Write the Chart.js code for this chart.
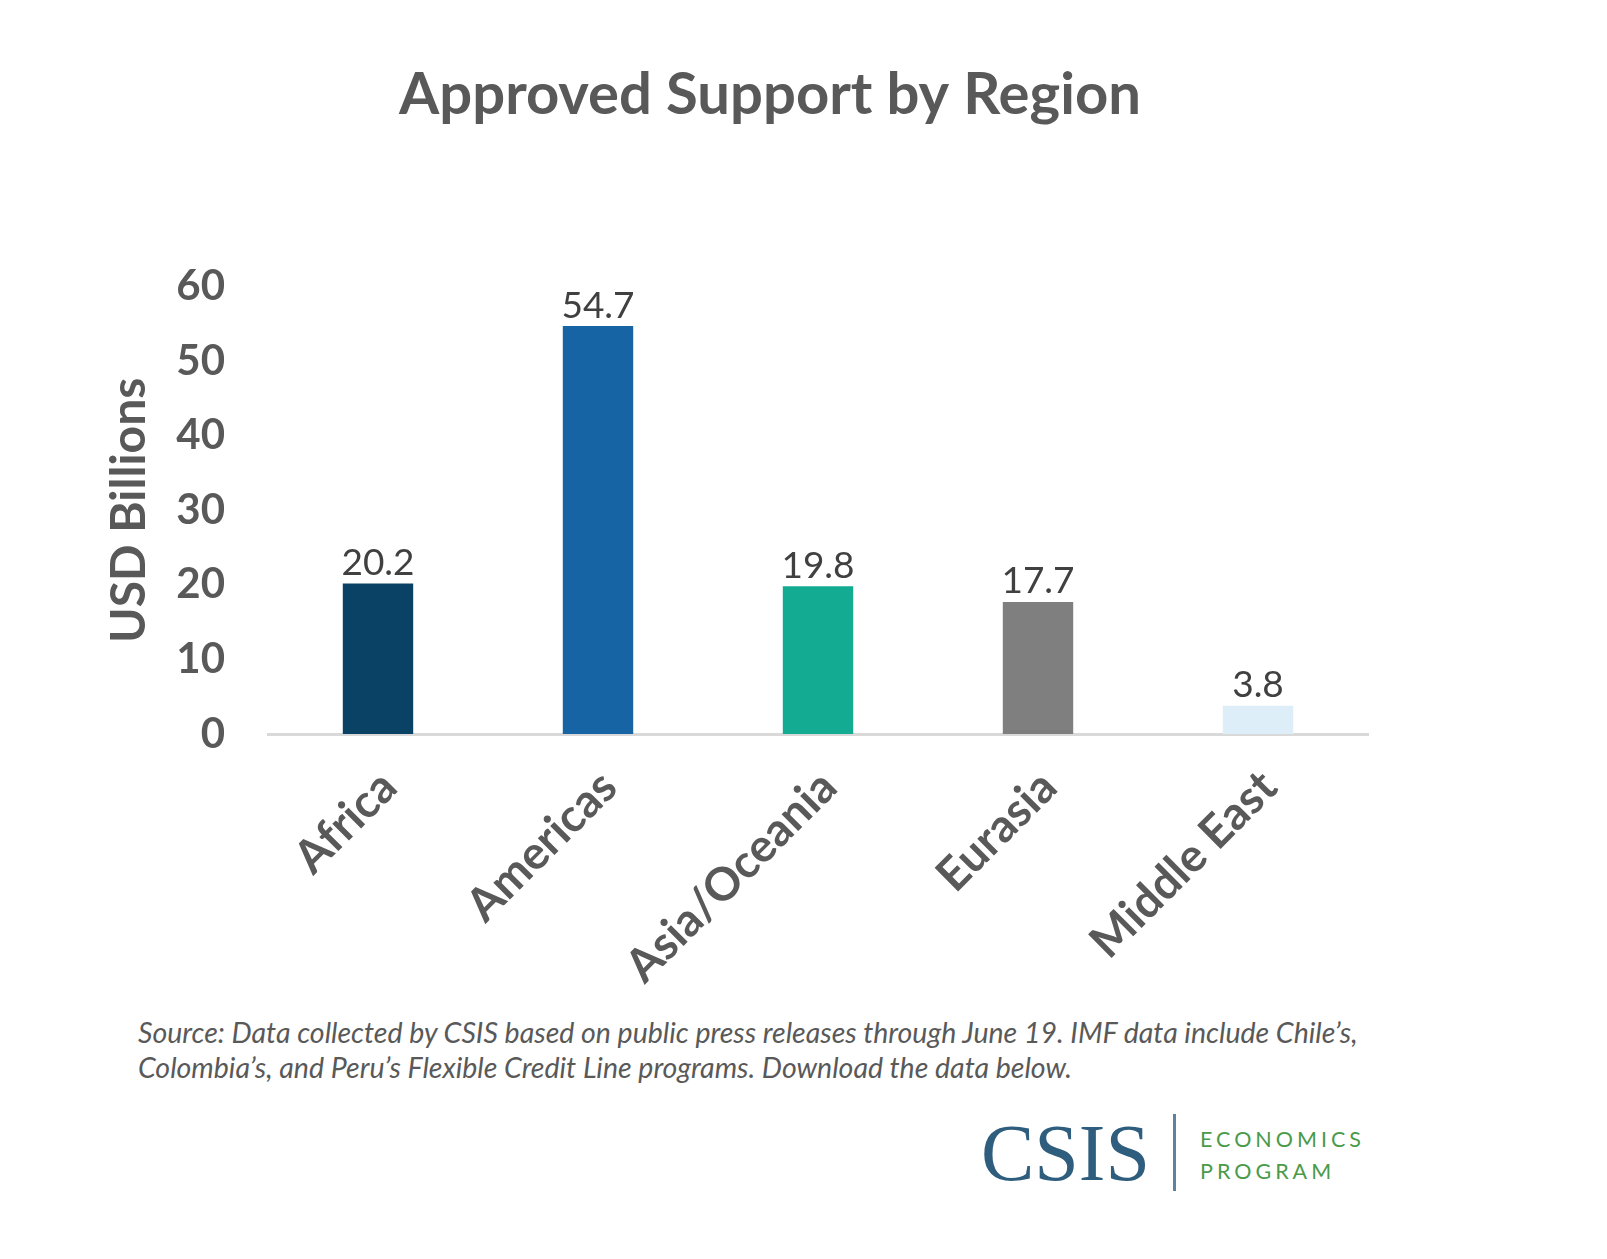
<!DOCTYPE html>
<html>
<head>
<meta charset="utf-8">
<title>Approved Support by Region</title>
<script src="https://cdn.jsdelivr.net/npm/chart.js@4.4.1/dist/chart.umd.min.js"></script>
<style>
    html, body { margin: 0; padding: 0; background: #fff; }
    body { width: 1607px; height: 1259px; position: relative; overflow: hidden; font-family: Lato, sans-serif; }
    #chartBox { position: absolute; left: 0; top: 0; width: 1552px; height: 1000px; }
    .source { position: absolute; left: 138px; top: 1015px; font-style: italic; font-size: 28.5px; line-height: 35px; color: #595959; }
    .logo-csis { position: absolute; left: 981px; top: 1113px; font-family: "Liberation Serif", serif; font-size: 80px; line-height: 80px; color: #2f5d7e; }
    .logo-bar { position: absolute; left: 1173px; top: 1114px; width: 3px; height: 77px; background: #5e83a0; }
    .logo-text { position: absolute; left: 1200px; top: 1123px; font-size: 21.5px; line-height: 32px; letter-spacing: 4px; color: #4a9a4a; }
</style>
</head>
<body>
<div id="chartBox"><canvas id="regionChart"></canvas></div>

<div class="source">Source: Data collected by CSIS based on public press releases through June 19. IMF data include Chile’s,<br>Colombia’s, and Peru’s Flexible Credit Line programs. Download the data below.</div>
<div class="logo-csis">CSIS</div>
<div class="logo-bar"></div>
<div class="logo-text">ECONOMICS<br>PROGRAM</div>

<script>
// Data
const regions = ['Africa', 'Americas', 'Asia/Oceania', 'Eurasia', 'Middle East'];
const support = [20.2, 54.7, 19.8, 17.7, 3.8];
const barColors = ['#0a4265', '#1764a5', '#14ab93', '#7f7f7f', '#deeef9'];
const yTicks = [0, 10, 20, 30, 40, 50, 60];

const textGrey = '#595959';

// Value labels above bars
const valueLabels = {
    id: 'valueLabels',
    afterDatasetsDraw(chart) {
        const ctx = chart.ctx;
        const meta = chart.getDatasetMeta(0);
        ctx.save();
        ctx.font = '37px Lato';
        ctx.fillStyle = '#404040';
        ctx.textAlign = 'center';
        ctx.textBaseline = 'bottom';
        meta.data.forEach((bar, i) => {
            ctx.fillText(support[i].toFixed(1), bar.x, bar.y - 2);
        });
        ctx.restore();
    }
};

const ctx = document.getElementById('regionChart').getContext('2d');
new Chart(ctx, {
    type: 'bar',
    data: {
        labels: regions,
        datasets: [{
            data: support,
            backgroundColor: barColors,
            borderWidth: 0,
            categoryPercentage: 1,
            barPercentage: 0.32
        }]
    },
    options: {
        responsive: true,
        maintainAspectRatio: false,
        animation: false,
        // left padding pulls the title centre left, like the original
        layout: { padding: { left: 172, right: 184, top: 0, bottom: 0 } },
        plugins: {
            legend: { display: false },
            tooltip: { enabled: false },
            title: {
                display: true,
                text: 'Approved Support by Region',
                color: textGrey,
                font: { family: 'Lato', size: 58, weight: 'bold', lineHeight: 1.2 },
                padding: { top: 60, bottom: 157 }
            }
        },
        scales: {
            x: {
                grid: { display: false, drawTicks: false },
                border: { display: true, color: '#d9d9d9', width: 3 },
                ticks: {
                    color: textGrey,
                    font: { family: 'Lato', size: 46, weight: 'bold' },
                    minRotation: 45,
                    maxRotation: 45,
                    padding: 26,
                    labelOffset: 11
                },
                afterFit(scale) { scale.height = 266; }
            },
            y: {
                min: 0,
                max: 60,
                afterBuildTicks(scale) { scale.ticks = yTicks.map(v => ({ value: v })); },
                grid: { display: false, drawTicks: false },
                border: { display: false },
                ticks: {
                    color: textGrey,
                    font: { family: 'Lato', size: 42, weight: 'bold' },
                    padding: 43
                },
                title: {
                    display: true,
                    text: 'USD Billions',
                    color: textGrey,
                    font: { family: 'Lato', size: 48, weight: 'bold', lineHeight: 1.2 },
                    padding: { top: -71, bottom: 0 }
                },
                afterFit(scale) { scale.width = 96; }
            }
        }
    },
    plugins: [valueLabels]
});
</script>
</body>
</html>
